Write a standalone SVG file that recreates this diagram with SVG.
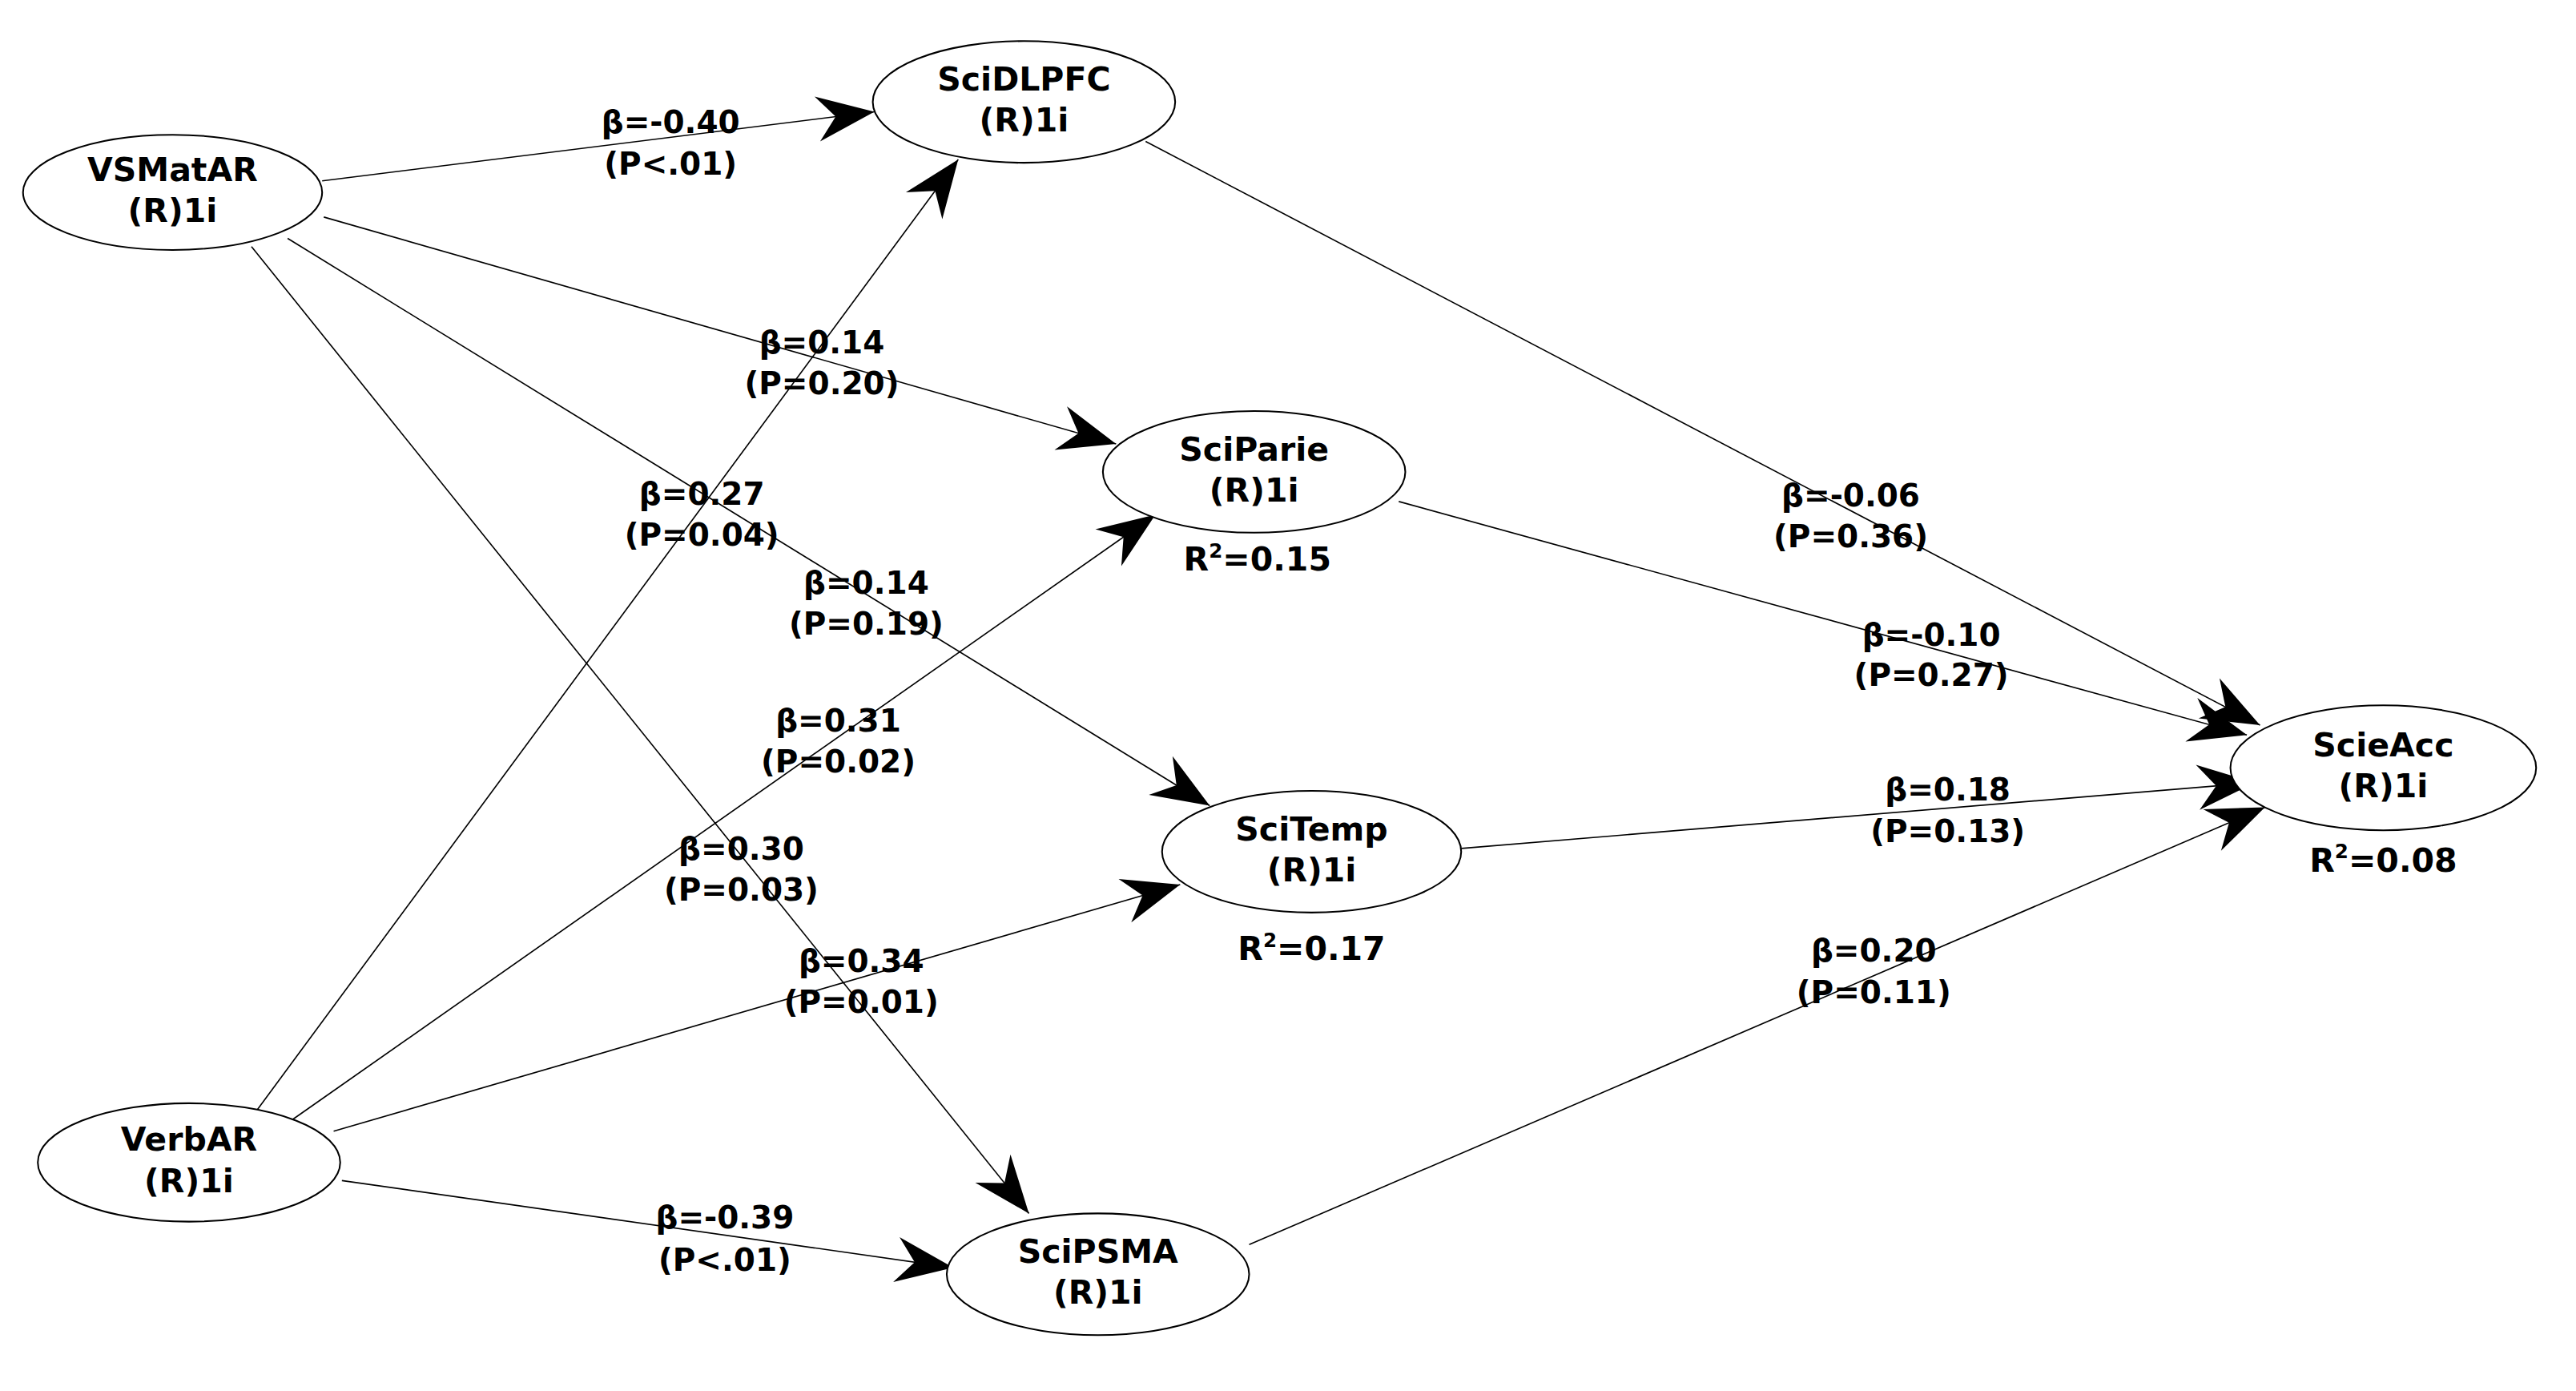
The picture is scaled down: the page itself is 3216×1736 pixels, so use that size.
<svg xmlns="http://www.w3.org/2000/svg" width="3216" height="1736" viewBox="0 0 3216 1736">
<style>
.n{fill:#fff;stroke:#000;stroke-width:1}
.t{font-family:"DejaVu Sans",sans-serif;font-weight:bold;font-size:20px;text-anchor:middle;fill:#000}
.l{font-family:"DejaVu Sans",sans-serif;font-weight:bold;font-size:19px;text-anchor:middle;fill:#000}
.e{stroke:#000;stroke-width:0.8;fill:none;marker-end:url(#a)}
</style>
<defs>
<marker id="a" markerUnits="userSpaceOnUse" markerWidth="40" markerHeight="40" viewBox="-30 -15 32 30" refX="0" refY="0" orient="auto">
<path d="M0,0 L-28,-11 L-19,0 L-28,11 Z" fill="#000"/>
</marker>
</defs>
<rect width="3216" height="1736" fill="#fff"/>
<g transform="scale(2.052)">
<g id="connectors">
<line class="e" x1="196" y1="110" x2="532" y2="68"/>
<line class="e" x1="197" y1="132" x2="679" y2="270"/>
<line class="e" x1="175" y1="145" x2="736" y2="490"/>
<line class="e" x1="153" y1="150" x2="626" y2="738"/>
<line class="e" x1="155" y1="677" x2="583" y2="97"/>
<line class="e" x1="175" y1="683" x2="703" y2="313"/>
<line class="e" x1="203" y1="688" x2="718" y2="538"/>
<line class="e" x1="208" y1="718" x2="580" y2="771"/>
<line class="e" x1="697" y1="86" x2="1375" y2="441"/>
<line class="e" x1="851" y1="305" x2="1367" y2="447"/>
<line class="e" x1="889" y1="516" x2="1372" y2="476"/>
<line class="e" x1="760" y1="757" x2="1378" y2="491"/>
<g class="l">
<text x="408" y="81">β=-0.40</text><text x="408" y="106">(P&lt;.01)</text>
<text x="500" y="215">β=0.14</text><text x="500" y="240">(P=0.20)</text>
<text x="427" y="307">β=0.27</text><text x="427" y="332">(P=0.04)</text>
<text x="527" y="361">β=0.14</text><text x="527" y="386">(P=0.19)</text>
<text x="510" y="445">β=0.31</text><text x="510" y="470">(P=0.02)</text>
<text x="451" y="523">β=0.30</text><text x="451" y="548">(P=0.03)</text>
<text x="524" y="591">β=0.34</text><text x="524" y="616">(P=0.01)</text>
<text x="441" y="747">β=-0.39</text><text x="441" y="773">(P&lt;.01)</text>
<text x="1126" y="308">β=-0.06</text><text x="1126" y="333">(P=0.36)</text>
<text x="1175" y="393">β=-0.10</text><text x="1175" y="417">(P=0.27)</text>
<text x="1185" y="487">β=0.18</text><text x="1185" y="512">(P=0.13)</text>
<text x="1140" y="585">β=0.20</text><text x="1140" y="610">(P=0.11)</text>
</g>
</g>
<g id="VSMatAR"><ellipse class="n" cx="105" cy="117" rx="91" ry="35"/><text class="t" x="105" y="110">VSMatAR</text><text class="t" x="105" y="135">(R)1i</text></g>
<g id="SciDLPFC"><ellipse class="n" cx="623" cy="62" rx="92" ry="37"/><text class="t" x="623" y="55">SciDLPFC</text><text class="t" x="623" y="80">(R)1i</text></g>
<g id="SciParie"><ellipse class="n" cx="763" cy="287" rx="92" ry="37"/><text class="t" x="763" y="280">SciParie</text><text class="t" x="763" y="305">(R)1i</text><text class="t" x="765" y="347">R<tspan font-size="12" dy="-8">2</tspan><tspan dy="8">=0.15</tspan></text></g>
<g id="SciTemp"><ellipse class="n" cx="798" cy="518" rx="91" ry="37"/><text class="t" x="798" y="511">SciTemp</text><text class="t" x="798" y="536">(R)1i</text><text class="t" x="798" y="584">R<tspan font-size="12" dy="-8">2</tspan><tspan dy="8">=0.17</tspan></text></g>
<g id="SciPSMA"><ellipse class="n" cx="668" cy="775" rx="92" ry="37"/><text class="t" x="668" y="768">SciPSMA</text><text class="t" x="668" y="793">(R)1i</text></g>
<g id="VerbAR"><ellipse class="n" cx="115" cy="707" rx="92" ry="36"/><text class="t" x="115" y="700">VerbAR</text><text class="t" x="115" y="725">(R)1i</text></g>
<g id="ScieAcc"><ellipse class="n" cx="1450" cy="467" rx="93" ry="38"/><text class="t" x="1450" y="460">ScieAcc</text><text class="t" x="1450" y="485">(R)1i</text><text class="t" x="1450" y="530">R<tspan font-size="12" dy="-8">2</tspan><tspan dy="8">=0.08</tspan></text></g>
</g>
</svg>
